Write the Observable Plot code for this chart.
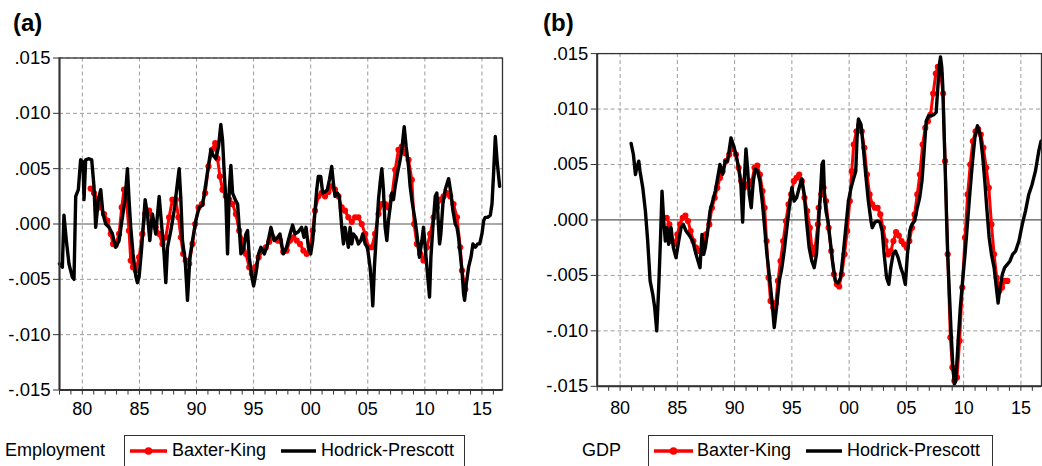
<!DOCTYPE html>
<html>
<head>
<meta charset="utf-8">
<script src="https://cdn.jsdelivr.net/npm/d3@7"></script>
<script src="https://cdn.jsdelivr.net/npm/@observablehq/plot@0.6"></script>
<style>
  html, body { margin: 0; padding: 0; background: #fff; }
  #chart { position: relative; width: 1042px; height: 466px; overflow: hidden; background: #fff;
           font-family: "Liberation Sans", Arial, sans-serif; color: #000; }
  .abs { position: absolute; white-space: nowrap; }
  .ttl { font-size: 24px; font-weight: bold; line-height: 24px; }
  .lbl { font-size: 18px; line-height: 18px; }
  .box { position: absolute; border: 1px solid #333; height: 60px; background: #fff; }
  .panel { position: absolute; top: 0; }
</style>
</head>
<body>
<div id="chart"></div>
<script>
// ---------- data (year, value) ----------
const empHP = [
[1978.00,-0.0036],[1978.25,-0.0039],[1978.39,0.0008],[1978.60,-0.0015],[1978.83,-0.0036],[1979.12,-0.0048],[1979.27,-0.0050],[1979.42,0.0025],[1979.65,0.0031],[1979.85,0.0058],[1980.06,0.0056],[1980.15,0.0022],[1980.29,0.0058],[1980.58,0.0059],[1980.82,0.0058],[1981.02,0.0034],[1981.17,-0.0003],[1981.40,0.0022],[1981.61,0.0031],[1981.81,0.0009],[1982.05,0.0000],[1982.34,-0.0003],[1982.63,-0.0009],[1982.92,-0.0021],[1983.22,-0.0015],[1983.51,0.0006],[1983.74,0.0022],[1983.95,0.0050],[1984.09,0.0022],[1984.24,-0.0003],[1984.44,-0.0027],[1984.68,-0.0047],[1984.82,-0.0053],[1984.97,-0.0048],[1985.20,-0.0021],[1985.50,0.0022],[1985.70,0.0009],[1985.91,-0.0015],[1986.14,0.0009],[1986.43,-0.0009],[1986.73,0.0025],[1986.96,-0.0003],[1987.16,-0.0027],[1987.31,-0.0053],[1987.46,-0.0021],[1987.75,-0.0006],[1988.04,0.0012],[1988.33,0.0037],[1988.48,0.0050],[1988.63,0.0022],[1988.77,-0.0015],[1989.01,-0.0033],[1989.21,-0.0069],[1989.42,-0.0030],[1989.65,-0.0015],[1989.94,0.0003],[1990.23,0.0015],[1990.53,0.0017],[1990.82,0.0037],[1991.05,0.0053],[1991.26,0.0067],[1991.46,0.0062],[1991.70,0.0059],[1991.93,0.0070],[1992.13,0.0090],[1992.28,0.0076],[1992.43,0.0046],[1992.57,0.0022],[1992.72,-0.0027],[1992.87,0.0031],[1993.01,0.0053],[1993.16,0.0028],[1993.39,0.0022],[1993.60,0.0018],[1993.74,-0.0003],[1993.89,-0.0027],[1994.09,-0.0024],[1994.33,-0.0009],[1994.47,-0.0006],[1994.62,-0.0030],[1994.85,-0.0048],[1995.00,-0.0056],[1995.20,-0.0045],[1995.44,-0.0027],[1995.64,-0.0021],[1995.94,-0.0027],[1996.23,-0.0018],[1996.52,-0.0003],[1996.81,-0.0015],[1997.11,-0.0012],
[1997.31,-0.0009],[1997.60,-0.0027],[1997.89,-0.0021],[1998.19,-0.0009],[1998.42,-0.0001],[1998.63,-0.0009],[1998.92,-0.0007],[1999.21,-0.0003],[1999.42,-0.0012],[1999.59,-0.0003],[1999.80,-0.0021],[2000.00,-0.0027],[2000.18,-0.0015],[2000.38,0.0012],[2000.53,0.0031],[2000.67,0.0043],[2000.88,0.0043],[2001.05,0.0028],[2001.26,0.0029],[2001.46,0.0031],[2001.64,0.0040],[2001.84,0.0052],[2001.99,0.0037],[2002.13,0.0025],[2002.34,0.0028],[2002.51,0.0025],[2002.72,-0.0003],[2002.87,-0.0018],[2003.01,-0.0003],[2003.16,-0.0012],[2003.30,-0.0021],[2003.45,-0.0003],[2003.60,-0.0018],[2003.74,-0.0009],[2003.98,-0.0012],[2004.18,-0.0018],[2004.39,-0.0015],[2004.56,-0.0009],[2004.77,-0.0018],[2004.97,-0.0021],[2005.20,-0.0039],[2005.35,-0.0057],[2005.44,-0.0074],[2005.58,-0.0039],[2005.79,-0.0003],[2005.94,0.0022],[2006.08,0.0037],[2006.23,0.0050],[2006.37,0.0031],[2006.52,-0.0003],[2006.67,-0.0015],[2006.81,0.0003],[2006.96,0.0015],[2007.11,0.0028],[2007.25,0.0022],[2007.40,0.0034],[2007.60,0.0046],[2007.78,0.0055],[2007.98,0.0067],[2008.19,0.0088],[2008.36,0.0070],[2008.57,0.0052],[2008.71,0.0034],[2008.86,0.0022],[2009.01,0.0012],[2009.15,0.0003],[2009.30,-0.0009],[2009.53,-0.0030],[2009.74,-0.0015],[2009.88,-0.0003],[2010.03,-0.0021],[2010.23,-0.0045],[2010.41,-0.0066],[2010.53,-0.0030],[2010.70,-0.0003],[2010.91,0.0025],[2011.05,0.0028],[2011.20,-0.0003],[2011.29,-0.0018],[2011.40,-0.0009],[2011.58,0.0018],[2011.78,0.0031],[2012.08,0.0041],[2012.28,0.0028],[2012.46,0.0012],[2012.66,0.0000],[2012.81,-0.0003],[2012.95,-0.0012],[2013.10,-0.0027],[2013.25,-0.0042],[2013.39,-0.0063],[2013.48,-0.0069],[2013.63,-0.0054],[2013.83,-0.0039],[2014.04,-0.0030],[2014.21,-0.0018],[2014.42,-0.0021],[2014.62,-0.0018],[2014.80,-0.0018],[2015.00,-0.0009],[2015.15,0.0003],[2015.29,0.0006],[2015.50,0.0006],[2015.73,0.0008],[2015.88,0.0018],[2016.02,0.0046],[2016.17,0.0079],[2016.32,0.0058],[2016.46,0.0043],[2016.55,0.0034]
];
const empBK = [
[1980.73,0.0032],[1981.02,0.0028],[1981.32,0.0022],[1981.61,0.0015],[1981.90,0.0009],[1982.19,0.0003],[1982.49,-0.0009],[1982.69,-0.0018],[1982.92,-0.0019],[1983.22,-0.0009],[1983.45,0.0015],[1983.65,0.0031],[1983.86,0.0022],[1984.09,-0.0006],[1984.24,-0.0033],[1984.44,-0.0039],[1984.68,-0.0042],[1984.97,-0.0030],[1985.26,-0.0009],[1985.50,0.0009],[1985.85,0.0012],[1986.14,0.0003],[1986.43,-0.0003],[1986.73,-0.0009],[1987.02,-0.0018],[1987.31,-0.0012],[1987.60,0.0006],[1987.89,0.0022],[1988.19,0.0022],[1988.42,0.0006],[1988.63,-0.0012],[1988.83,-0.0027],[1989.06,-0.0033],[1989.36,-0.0036],[1989.65,-0.0018],[1989.88,0.0000],[1990.18,0.0015],[1990.47,0.0018],[1990.76,0.0028],[1991.05,0.0052],[1991.35,0.0067],[1991.64,0.0073],[1991.84,0.0059],[1992.05,0.0043],[1992.28,0.0031],[1992.57,0.0025],[1992.87,0.0022],[1993.16,0.0018],[1993.45,0.0009],[1993.74,-0.0006],[1994.04,-0.0015],[1994.33,-0.0027],[1994.62,-0.0039],[1994.85,-0.0045],[1995.15,-0.0039],[1995.44,-0.0030],[1995.79,-0.0024],[1996.08,-0.0021],[1996.37,-0.0016],[1996.67,-0.0012],[1997.11,-0.0015],
[1997.31,-0.0015],[1997.60,-0.0025],[1997.89,-0.0024],[1998.19,-0.0015],[1998.48,-0.0012],[1998.77,-0.0015],[1999.06,-0.0018],[1999.36,-0.0024],[1999.65,-0.0027],[1999.94,-0.0021],[2000.18,-0.0006],[2000.38,0.0012],[2000.67,0.0025],[2000.96,0.0028],[2001.26,0.0025],[2001.55,0.0029],[2001.84,0.0034],[2002.13,0.0031],[2002.43,0.0025],[2002.72,0.0015],[2003.01,0.0012],[2003.30,0.0006],[2003.60,0.0002],[2003.89,0.0006],[2004.18,0.0006],[2004.47,0.0000],[2004.77,-0.0009],[2005.06,-0.0021],[2005.35,-0.0021],[2005.64,-0.0009],[2005.94,0.0009],[2006.23,0.0018],[2006.52,0.0018],[2006.81,0.0015],[2007.11,0.0025],[2007.40,0.0049],[2007.69,0.0067],[2007.98,0.0070],[2008.27,0.0064],[2008.57,0.0058],[2008.86,0.0040],[2009.06,0.0000],[2009.30,-0.0018],[2009.59,-0.0027],[2009.88,-0.0033],[2010.18,-0.0021],[2010.47,-0.0009],[2010.76,0.0006],[2011.05,0.0015],[2011.35,0.0022],[2011.64,0.0025],[2011.93,0.0028],[2012.22,0.0025],[2012.51,0.0018],[2012.81,0.0006],[2013.10,-0.0021],[2013.25,-0.0042],[2013.54,-0.0059]
];
const gdpHP = [
[1980.96,0.0069],[1981.16,0.0059],[1981.34,0.0041],[1981.45,0.0047],[1981.63,0.0053],[1981.74,0.0044],[1981.98,0.0029],[1982.21,0.0008],[1982.41,-0.0019],[1982.62,-0.0055],[1982.85,-0.0067],[1983.02,-0.0079],[1983.20,-0.0100],[1983.37,-0.0061],[1983.52,-0.0019],[1983.66,0.0026],[1983.81,-0.0001],[1983.95,-0.0019],[1984.10,-0.0007],[1984.24,-0.0022],[1984.45,-0.0007],[1984.65,-0.0025],[1984.88,-0.0034],[1985.12,-0.0019],[1985.32,-0.0007],[1985.52,-0.0004],[1985.76,-0.0010],[1986.05,-0.0014],[1986.34,-0.0019],[1986.63,-0.0031],[1986.98,-0.0043],[1987.15,-0.0013],[1987.30,-0.0031],[1987.44,-0.0025],[1987.65,-0.0010],[1987.85,0.0008],[1988.08,0.0017],[1988.31,0.0026],[1988.52,0.0038],[1988.72,0.0050],[1988.95,0.0041],[1989.19,0.0053],[1989.39,0.0053],[1989.68,0.0074],[1989.88,0.0068],[1990.12,0.0059],[1990.35,0.0047],[1990.55,0.0032],[1990.70,-0.0002],[1990.84,0.0035],[1990.99,0.0064],[1991.13,0.0047],[1991.28,0.0023],[1991.45,0.0011],[1991.63,0.0035],[1991.80,0.0046],[1992.01,0.0044],[1992.21,0.0035],[1992.44,0.0014],[1992.65,-0.0010],[1992.82,-0.0031],[1993.02,-0.0049],[1993.26,-0.0073],[1993.46,-0.0097],[1993.66,-0.0079],[1993.90,-0.0055],[1994.13,-0.0043],[1994.33,-0.0028],[1994.53,-0.0010],[1994.77,0.0011],[1995.00,0.0029],[1995.20,0.0017],[1995.41,0.0020],[1995.64,0.0029],[1995.87,0.0037],[1996.08,0.0023],[1996.28,-0.0001],[1996.51,-0.0025],[1996.74,-0.0037],[1996.95,-0.0043],[1997.15,-0.0031],
[1997.34,-0.0001],[1997.49,0.0023],[1997.63,0.0050],[1997.75,0.0053],[1997.86,0.0020],[1997.98,0.0008],[1998.15,-0.0001],[1998.35,-0.0019],[1998.55,-0.0037],[1998.79,-0.0055],[1999.02,-0.0057],[1999.25,-0.0052],[1999.48,-0.0031],[1999.71,-0.0007],[1999.94,0.0017],[2000.17,0.0029],[2000.38,0.0037],[2000.58,0.0044],[2000.69,0.0074],[2000.81,0.0091],[2001.04,0.0086],[2001.24,0.0065],[2001.45,0.0041],[2001.68,0.0017],[2001.91,-0.0001],[2002.02,-0.0007],[2002.25,-0.0002],[2002.49,-0.0001],[2002.69,-0.0002],[2002.89,-0.0010],[2003.06,-0.0031],[2003.27,-0.0052],[2003.47,-0.0058],[2003.64,-0.0043],[2003.84,-0.0031],[2004.05,-0.0028],[2004.28,-0.0034],[2004.51,-0.0043],[2004.71,-0.0049],[2004.91,-0.0058],[2005.09,-0.0031],[2005.29,-0.0010],[2005.49,-0.0004],[2005.72,-0.0001],[2005.95,0.0011],[2006.16,0.0020],[2006.36,0.0035],[2006.53,0.0059],[2006.73,0.0089],[2006.94,0.0094],[2007.17,0.0094],[2007.40,0.0095],[2007.60,0.0097],[2007.75,0.0120],[2007.86,0.0138],[2007.98,0.0147],[2008.09,0.0138],[2008.18,0.0120],[2008.27,0.0086],[2008.38,0.0050],[2008.50,0.0005],[2008.61,-0.0031],[2008.76,-0.0067],[2008.90,-0.0100],[2009.05,-0.0130],[2009.19,-0.0148],[2009.31,-0.0145],[2009.42,-0.0127],[2009.54,-0.0106],[2009.71,-0.0079],[2009.91,-0.0055],[2010.12,-0.0031],[2010.35,-0.0001],[2010.58,0.0029],[2010.78,0.0053],[2010.98,0.0074],[2011.21,0.0085],[2011.45,0.0077],[2011.65,0.0059],[2011.85,0.0035],[2012.02,0.0011],[2012.23,-0.0016],[2012.43,-0.0031],[2012.66,-0.0043],[2012.89,-0.0064],[2013.01,-0.0075],[2013.18,-0.0061],[2013.38,-0.0049],[2013.58,-0.0043],[2013.82,-0.0040],[2014.05,-0.0037],[2014.28,-0.0031],[2014.54,-0.0028],[2014.83,-0.0019],[2015.12,-0.0004],[2015.40,0.0008],[2015.69,0.0023],[2015.98,0.0032],[2016.27,0.0044],[2016.56,0.0062],[2016.76,0.0071]
];
const gdpBK = [
[1984.07,0.0002],[1984.30,-0.0004],[1984.53,-0.0019],[1984.77,-0.0022],[1985.00,-0.0013],[1985.23,-0.0004],[1985.47,0.0002],[1985.70,0.0004],[1985.93,-0.0001],[1986.16,-0.0010],[1986.40,-0.0019],[1986.63,-0.0025],[1986.92,-0.0028],[1987.21,-0.0025],[1987.50,-0.0013],[1987.79,-0.0004],[1988.02,0.0011],[1988.26,0.0020],[1988.49,0.0029],[1988.72,0.0038],[1988.95,0.0044],[1989.24,0.0053],[1989.53,0.0059],[1989.83,0.0065],[1990.12,0.0059],[1990.35,0.0047],[1990.58,0.0035],[1990.81,0.0029],[1991.05,0.0032],[1991.28,0.0032],[1991.51,0.0035],[1991.74,0.0047],[1991.98,0.0049],[1992.21,0.0041],[1992.44,0.0026],[1992.62,0.0011],[1992.79,-0.0019],[1992.97,-0.0052],[1993.14,-0.0073],[1993.37,-0.0079],[1993.60,-0.0075],[1993.78,-0.0055],[1994.01,-0.0037],[1994.24,-0.0019],[1994.48,-0.0001],[1994.71,0.0014],[1994.94,0.0023],[1995.17,0.0035],[1995.41,0.0038],[1995.64,0.0041],[1995.87,0.0035],[1996.10,0.0020],[1996.34,0.0008],[1996.57,-0.0007],[1996.80,-0.0031],[1997.03,-0.0025],[1997.27,-0.0004],
[1997.34,0.0011],[1997.57,0.0023],[1997.77,0.0029],[1997.98,0.0017],[1998.21,-0.0007],[1998.44,-0.0028],[1998.67,-0.0049],[1998.93,-0.0058],[1999.13,-0.0060],[1999.36,-0.0049],[1999.60,-0.0031],[1999.83,-0.0010],[2000.06,0.0017],[2000.23,0.0044],[2000.40,0.0068],[2000.64,0.0080],[2000.87,0.0085],[2001.10,0.0080],[2001.33,0.0065],[2001.56,0.0041],[2001.79,0.0023],[2002.02,0.0014],[2002.25,0.0011],[2002.49,0.0011],[2002.72,0.0005],[2002.95,-0.0007],[2003.18,-0.0019],[2003.41,-0.0031],[2003.64,-0.0028],[2003.87,-0.0019],[2004.10,-0.0011],[2004.34,-0.0014],[2004.57,-0.0019],[2004.80,-0.0022],[2005.03,-0.0025],[2005.26,-0.0019],[2005.49,-0.0007],[2005.72,0.0005],[2005.95,0.0023],[2006.18,0.0041],[2006.42,0.0068],[2006.65,0.0083],[2006.88,0.0089],[2007.11,0.0095],[2007.34,0.0114],[2007.57,0.0132],[2007.75,0.0138],[2007.98,0.0132],[2008.21,0.0114],[2008.38,0.0053],[2008.61,-0.0031],[2008.84,-0.0106],[2009.02,-0.0133],[2009.19,-0.0145],[2009.42,-0.0142],[2009.65,-0.0109],[2009.88,-0.0061],[2010.12,-0.0016],[2010.35,0.0023],[2010.58,0.0050],[2010.81,0.0071],[2011.04,0.0080],[2011.27,0.0082],[2011.50,0.0077],[2011.73,0.0065],[2011.97,0.0047],[2012.20,0.0029],[2012.43,-0.0004],[2012.66,-0.0031],[2012.89,-0.0052],[2013.12,-0.0064],[2013.35,-0.0061],[2013.58,-0.0055],[2013.82,-0.0055]
];
const yTicks = [-0.015, -0.010, -0.005, 0, 0.005, 0.010, 0.015];
const xYears = d3.range(1978, 2017);
const xMajor = [1980, 1985, 1990, 1995, 2000, 2005, 2010, 2015];
const xDomain = [1978, 2016.8];
const panelTitles = ["(a)", "(b)"];
const seriesNames = ["Baxter-King", "Hodrick-Prescott"];
const panelNames = ["Employment", "GDP"];

// ---------- drawing ----------
const fmtY = v => (v < 0 ? "-" : "") + d3.format(".3f")(Math.abs(v)).replace(/^0/, "");
const fmtX = d => (d % 5 === 0 ? String(d % 100).padStart(2, "0") : "");

function panel(hp, bk, o) {
  return Plot.plot({
    width: o.width, height: 420,
    marginLeft: o.ml, marginRight: o.mr, marginTop: o.mt, marginBottom: 420 - o.bottom,
    x: {domain: xDomain, axis: null},
    y: {domain: [-0.015, 0.015], axis: null},
    style: {fontFamily: "'Liberation Sans', Arial, sans-serif", fontSize: "18px", color: "#000", background: "transparent", overflow: "visible"},
    marks: [
      Plot.ruleX(xMajor, {stroke: "#9b9b9b", strokeWidth: 1, strokeDasharray: "4,3"}),
      Plot.ruleY(yTicks.filter(d => d !== 0), {stroke: "#9b9b9b", strokeWidth: 1, strokeDasharray: "4,3"}),
      Plot.ruleY([0], {stroke: "#555", strokeWidth: 1.2}),
      Plot.line(bk, {x: d => d[0], y: d => d[1], stroke: "#ff0000", strokeWidth: 3}),
      Plot.dot(bk, {x: d => d[0], y: d => d[1], r: 3.1, fill: "#ff0000", stroke: "none"}),
      Plot.line(hp, {x: d => d[0], y: d => d[1], stroke: "#000", strokeWidth: 3.4, strokeLinejoin: "round"}),
      Plot.frame({stroke: "#333", strokeWidth: 1.3}),
      Plot.ruleX([xDomain[0]], {stroke: "#333", strokeWidth: 2}),
      Plot.ruleY([-0.015], {stroke: "#333", strokeWidth: 2}),
      Plot.axisY({ticks: yTicks, tickFormat: fmtY, tickSize: 6, tickPadding: 3, fontSize: 18.5, stroke: "#333"}),
      Plot.axisX({ticks: xYears, tickFormat: fmtX, tickSize: 5, tickPadding: o.xpad, fontSize: 18, stroke: "#333"})
    ]
  });
}

const chart = document.getElementById("chart");
const layouts = [
  {left: 0, width: 520, ml: 59, mr: 18, mt: 57.5, bottom: 389.5, xpad: 7.5,
   tx: 13, lx: 5, bx: 124, bw: 339, sw1: [5, 42], t1: 47, sw2: [156, 191], t2: 196},
  {left: 520, width: 524, ml: 77, mr: 1, mt: 53.3, bottom: 387.3, xpad: 9.7,
   tx: 543, lx: 582, bx: 648, bw: 343, sw1: [5, 44], t1: 48, sw2: [157, 193], t2: 198}
];
const data = [[empHP, empBK], [gdpHP, gdpBK]];

layouts.forEach((o, i) => {
  const wrap = document.createElement("div");
  wrap.className = "panel";
  wrap.style.left = o.left + "px";
  wrap.appendChild(panel(data[i][0], data[i][1], o));
  chart.appendChild(wrap);

  const t = document.createElement("div");
  t.className = "abs ttl"; t.style.left = o.tx + "px"; t.style.top = "11px";
  t.textContent = panelTitles[i];
  chart.appendChild(t);

  const l = document.createElement("div");
  l.className = "abs lbl"; l.style.left = o.lx + "px"; l.style.top = "441px";
  l.textContent = panelNames[i];
  chart.appendChild(l);

  const box = document.createElement("div");
  box.className = "box"; box.style.left = o.bx + "px"; box.style.top = "435px"; box.style.width = o.bw + "px";
  const sw = (a, b, color, dot) => {
    const s = document.createElementNS("http://www.w3.org/2000/svg", "svg");
    s.setAttribute("width", b - a); s.setAttribute("height", 10);
    s.style.position = "absolute"; s.style.left = a + "px"; s.style.top = "10px";
    s.innerHTML = `<line x1="0" x2="${b - a}" y1="5" y2="5" stroke="${color}" stroke-width="3.4"/>` +
      (dot ? `<circle cx="${(b - a) / 2}" cy="5" r="3.8" fill="${color}"/>` : "");
    return s;
  };
  box.appendChild(sw(o.sw1[0], o.sw1[1], "#ff0000", true));
  box.appendChild(sw(o.sw2[0], o.sw2[1], "#000", false));
  const a1 = document.createElement("div"); a1.className = "abs lbl"; a1.style.left = o.t1 + "px"; a1.style.top = "5px"; a1.textContent = seriesNames[0];
  const a2 = document.createElement("div"); a2.className = "abs lbl"; a2.style.left = o.t2 + "px"; a2.style.top = "5px"; a2.textContent = seriesNames[1];
  box.appendChild(a1); box.appendChild(a2);
  chart.appendChild(box);
});
</script>
</body>
</html>
